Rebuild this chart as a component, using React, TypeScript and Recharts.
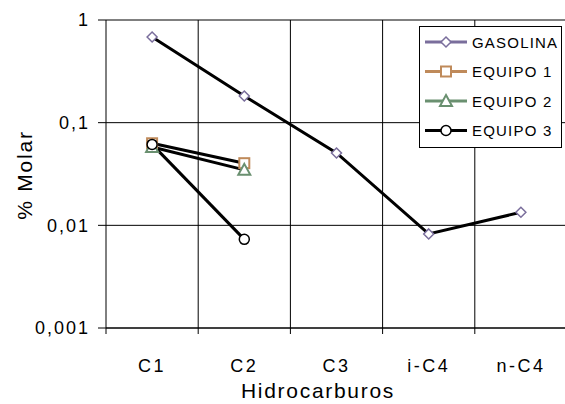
import React from "react";
import { LineChart, Line, XAxis, YAxis, CartesianGrid, ReferenceLine, Label } from "recharts";

// Values (log scale, % molar)
const categories = ["C1", "C2", "C3", "i-C4", "n-C4"];
const gasolina = [0.683, 0.182, 0.0507, 0.00825, 0.0134];
const equipo1 = [0.063, 0.0403];
const equipo2 = [0.058, 0.0347];
const equipo3 = [0.0614, 0.0073];
const yTicks = [0.001, 0.01, 0.1, 1];
const boundaries = [1, 2, 3, 4, 5];

const FONT = "Arial, 'Liberation Sans', sans-serif";

// one row per category, x at the middle of its band
const data = categories.map((name, i) => ({
  x: i + 0.5,
  name,
  gasolina: gasolina[i],
  equipo1: equipo1[i],
  equipo2: equipo2[i],
  equipo3: equipo3[i],
}));

const xTicks = [0, 0.5, 1, 1.5, 2, 2.5, 3, 3.5, 4, 4.5, 5];

type Shape = "diamond" | "square" | "triangle" | "circle";

const series: { key: string; name: string; color: string; shape: Shape }[] = [
  { key: "gasolina", name: "GASOLINA", color: "#7a6e9c", shape: "diamond" },
  { key: "equipo1", name: "EQUIPO 1", color: "#bf8a5a", shape: "square" },
  { key: "equipo2", name: "EQUIPO 2", color: "#6a9070", shape: "triangle" },
  { key: "equipo3", name: "EQUIPO 3", color: "#000000", shape: "circle" },
];

function Marker({ cx, cy, shape, color }: { cx: number; cy: number; shape: Shape; color: string }) {
  if (shape === "diamond")
    return (
      <polygon
        points={`${cx},${cy - 5} ${cx + 5},${cy} ${cx},${cy + 5} ${cx - 5},${cy}`}
        fill="#fff"
        stroke={color}
        strokeWidth={1.5}
      />
    );
  if (shape === "square")
    return <rect x={cx - 5} y={cy - 5} width={10} height={10} fill="#fff" stroke={color} strokeWidth={2} />;
  if (shape === "triangle")
    return (
      <polygon
        points={`${cx},${cy - 6} ${cx + 6},${cy + 5} ${cx - 6},${cy + 5}`}
        fill="#fff"
        stroke={color}
        strokeWidth={2}
      />
    );
  return <circle cx={cx} cy={cy} r={5} fill="#fff" stroke={color} strokeWidth={1.5} />;
}

const makeDot = (shape: Shape, color: string) => (props: any) => {
  const { cx, cy, value, index } = props;
  if (value == null || cx == null || cy == null) return <g key={index} />;
  return (
    <g key={index}>
      <Marker cx={cx} cy={cy} shape={shape} color={color} />
    </g>
  );
};

const XTick = (props: any) => {
  const { x, y, payload } = props;
  const v = payload.value;
  if (Number.isInteger(v)) return <line x1={x} x2={x} y1={y} y2={y + 6} stroke="#000" />;
  return (
    <text x={x} y={y + 44} textAnchor="middle" fontSize={18} fontFamily={FONT} letterSpacing={2.5} fill="#000">
      {categories[Math.floor(v)]}
    </text>
  );
};

const LegendBox = () => (
  <svg width={143} height={122} style={{ display: "block" }}>
    <rect x={0.5} y={0.5} width={142} height={121} fill="#fff" stroke="#000" />
    {series.map((s, i) => {
      const cy = 16 + i * 29.5;
      return (
        <g key={s.key}>
          <line x1={6} x2={48} y1={cy} y2={cy} stroke={s.color} strokeWidth={3} />
          <Marker cx={27} cy={cy} shape={s.shape} color={s.color} />
          <text x={53} y={cy + 5.5} fontSize={15} fontFamily={FONT} letterSpacing={1.2} fill="#000">
            {s.name}
          </text>
        </g>
      );
    })}
  </svg>
);

export default function App() {
  return (
    <div style={{ position: "fixed", left: 0, top: 0, width: 565, height: 404, overflow: "hidden", background: "#fff" }}>
      <LineChart width={570} height={404} data={data} margin={{ top: 20, right: 3, left: 0, bottom: 0 }}>
        <CartesianGrid vertical={false} stroke="#000" strokeWidth={1} />
        {boundaries.map((b) => (
          <ReferenceLine key={b} x={b} stroke="#000" strokeWidth={1} />
        ))}
        <XAxis
          dataKey="x"
          type="number"
          domain={[0, 5]}
          ticks={xTicks}
          interval={0}
          tick={<XTick />}
          tickLine={false}
          tickSize={0}
          tickMargin={0}
          height={76}
          axisLine={{ stroke: "#000" }}
        >
          <Label
            content={() => (
              <text x={318} y={398} textAnchor="middle" fontSize={21} fontFamily={FONT} letterSpacing={1.7} fill="#000">
                Hidrocarburos
              </text>
            )}
          />
        </XAxis>
        <YAxis
          scale="log"
          domain={[0.001, 1]}
          ticks={yTicks}
          allowDataOverflow
          width={106}
          tickSize={8}
          tickMargin={8}
          tickLine={{ stroke: "#000" }}
          axisLine={{ stroke: "#000" }}
          tickFormatter={(v: number) => String(v).replace(".", ",")}
          tick={{ fontSize: 18, fontFamily: FONT, fill: "#000", letterSpacing: 2 }}
        >
          <Label
            content={() => (
              <text
                x={0}
                y={0}
                transform="translate(32,175) rotate(-90)"
                textAnchor="middle"
                fontSize={21}
                fontFamily={FONT}
                letterSpacing={1.8}
                fill="#000"
              >
                % Molar
              </text>
            )}
          />
        </YAxis>
        {series.map((s) => (
          <Line
            key={s.key}
            dataKey={s.key}
            name={s.name}
            stroke="#000"
            strokeWidth={3}
            dot={makeDot(s.shape, s.color)}
            activeDot={false}
            isAnimationActive={false}
            type="linear"
          />
        ))}
      </LineChart>
      <div style={{ position: "absolute", left: 419, top: 26 }}>
        <LegendBox />
      </div>
    </div>
  );
}
